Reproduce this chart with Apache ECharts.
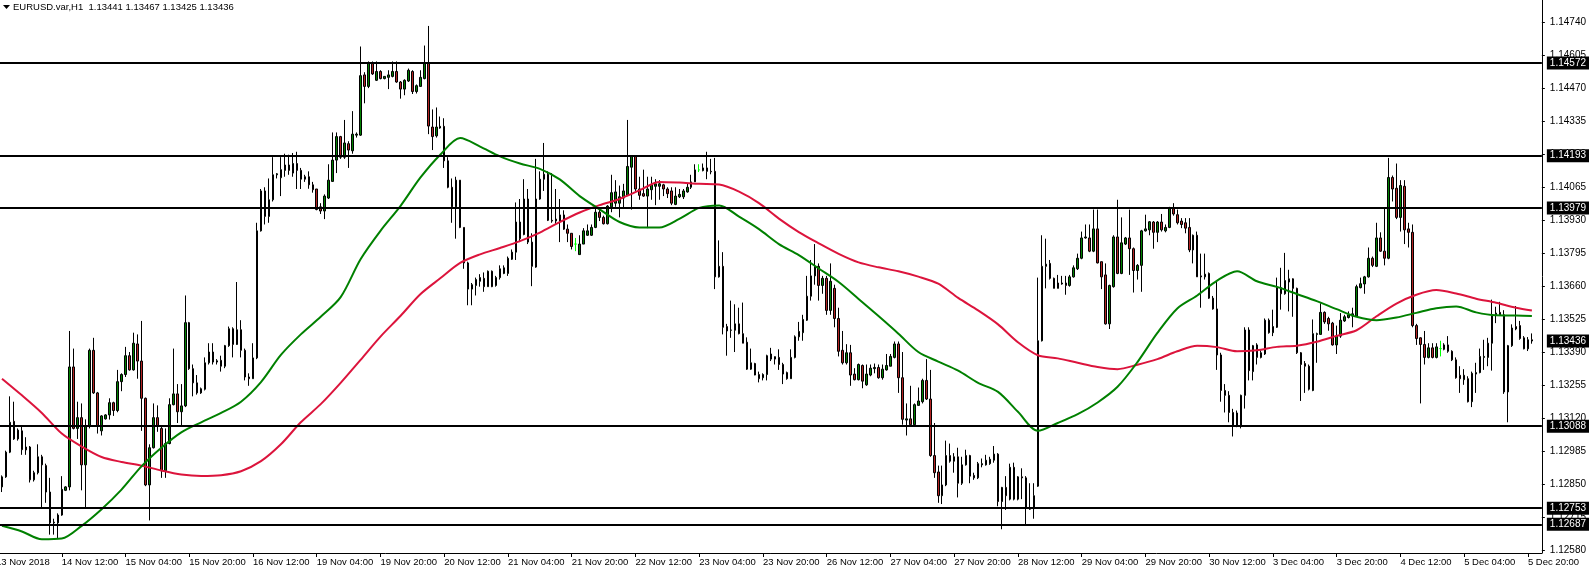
<!DOCTYPE html>
<html><head><meta charset="utf-8">
<script src="https://cdn.jsdelivr.net/npm/echarts@6/dist/echarts.min.js"></script>
<style>html,body{margin:0;padding:0;background:#fff;}#c{width:1589px;height:572px;}</style>
</head><body><div id="c"></div>
<script>
const symbolName = 'EURUSD.var,H1';
const firstLabel = '13 Nov 2018';
const days = ['13 Nov','14 Nov','15 Nov','16 Nov','19 Nov','20 Nov','21 Nov','22 Nov','23 Nov','26 Nov','27 Nov','28 Nov','29 Nov','30 Nov','3 Dec','4 Dec','5 Dec'];

const opens = [
1.12840,1.12881,1.12982,1.13108,1.13036,1.13069,1.13003,1.13003,1.12869,1.12898,
1.12963,1.12927,1.12819,1.12693,1.12693,1.12725,1.12826,1.12840,1.13330,1.13079,
1.13123,1.12930,1.13087,1.13398,1.13224,1.13069,1.13118,1.13134,1.13184,1.13152,
1.13270,1.13299,1.13376,1.13318,1.13424,1.13354,1.13202,1.12848,1.13000,1.13123,
1.13079,1.12906,1.13017,1.13176,1.13220,1.13147,1.13171,1.13511,1.13323,1.13265,
1.13224,1.13239,1.13347,1.13391,1.13350,1.13357,1.13333,1.13417,1.13486,1.13422,
1.13482,1.13398,1.13289,1.13282,1.13367,1.13886,1.14049,1.13945,1.14013,1.14115,
1.14103,1.14133,1.14155,1.14122,1.14161,1.14133,1.14107,1.14107,1.14074,1.14057,
1.13984,1.13967,1.14020,1.14088,1.14175,1.14271,1.14187,1.14242,1.14213,1.14277,
1.14277,1.14523,1.14476,1.14573,1.14501,1.14537,1.14508,1.14513,1.14517,1.14537,
1.14494,1.14465,1.14498,1.14537,1.14455,1.14476,1.14508,1.14570,1.14310,1.14274,
1.14306,1.14313,1.14172,1.14064,1.13984,1.14093,1.13900,1.13755,1.13648,1.13663,
1.13680,1.13692,1.13658,1.13721,1.13663,1.13695,1.13712,1.13712,1.13770,1.13799,
1.13922,1.13871,1.14016,1.13840,1.13738,1.14016,1.14097,1.14117,1.13929,1.13934,
1.13951,1.13951,1.13893,1.13876,1.13832,1.13789,1.13832,1.13868,1.13868,1.13900,
1.13962,1.13941,1.13915,1.13984,1.13999,1.13999,1.14020,1.14031,1.14146,1.14190,
1.14057,1.14038,1.14028,1.14054,1.14068,1.14068,1.14074,1.14057,1.14049,1.13994,
1.14025,1.14025,1.14045,1.14064,1.14086,1.14135,1.14132,1.14143,1.14129,1.14129,
1.13698,1.13741,1.13495,1.13480,1.13480,1.13506,1.13466,1.13431,1.13321,1.13344,
1.13299,1.13286,1.13299,1.13383,1.13362,1.13369,1.13340,1.13307,1.13282,1.13369,
1.13453,1.13470,1.13521,1.13619,1.13702,1.13741,1.13663,1.13692,1.13561,1.13651,
1.13528,1.13398,1.13347,1.13388,1.13301,1.13278,1.13336,1.13257,1.13297,1.13323,
1.13328,1.13286,1.13318,1.13333,1.13369,1.13424,1.13286,1.13113,1.13118,1.13094,
1.13173,1.13188,1.13275,1.13199,1.12968,1.12901,1.12804,1.12848,1.12945,1.12945,
1.12963,1.12855,1.12930,1.12968,1.12887,1.12877,1.12930,1.12930,1.12935,1.12949,
1.12974,1.12780,1.12838,1.12790,1.12920,1.12790,1.12881,1.12877,1.12754,1.12751,
1.12843,1.13437,1.13741,1.13753,1.13692,1.13651,1.13673,1.13673,1.13663,1.13698,
1.13731,1.13774,1.13857,1.13857,1.13803,1.13894,1.13760,1.13706,1.13506,1.13658,
1.13861,1.13712,1.13832,1.13857,1.13813,1.13724,1.13745,1.13886,1.13890,1.13922,
1.13880,1.13922,1.13886,1.13900,1.13977,1.13952,1.13926,1.13919,1.13900,1.13808,
1.13868,1.13702,1.13698,1.13712,1.13611,1.13567,1.13379,1.13214,1.13214,1.13144,
1.13087,1.13087,1.13214,1.13481,1.13311,1.13420,1.13369,1.13383,1.13521,1.13470,
1.13492,1.13654,1.13629,1.13677,1.13690,1.13651,1.13388,1.13344,1.13333,1.13234,
1.13463,1.13463,1.13553,1.13528,1.13509,1.13420,1.13456,1.13518,1.13532,1.13538,
1.13538,1.13654,1.13669,1.13698,1.13774,1.13741,1.13857,1.13803,1.13774,1.14104,
1.14060,1.13941,1.14068,1.13894,1.13880,1.13499,1.13449,1.13422,1.13369,1.13408,
1.13369,1.13405,1.13402,1.13420,1.13394,1.13359,1.13296,1.13278,1.13282,1.13188,
1.13301,1.13307,1.13369,1.13369,1.13427,1.13543,1.13553,1.13543,1.13228,1.13417,
1.13495,1.13499,1.13449,1.13404,1.13441];

const highs = [
1.12887,1.12988,1.13210,1.13188,1.13079,1.13087,1.13043,1.13007,1.12906,1.13014,
1.12971,1.12935,1.12877,1.12710,1.12732,1.12884,1.12843,1.13477,1.13405,1.13188,
1.13181,1.13116,1.13405,1.13449,1.13228,1.13133,1.13137,1.13202,1.13188,1.13318,
1.13304,1.13412,1.13391,1.13470,1.13463,1.13518,1.13205,1.13014,1.13181,1.13173,
1.13087,1.13079,1.13202,1.13405,1.13260,1.13260,1.13622,1.13514,1.13340,1.13297,
1.13246,1.13369,1.13427,1.13427,1.13362,1.13376,1.13420,1.13495,1.13492,1.13677,
1.13521,1.13405,1.13304,1.13427,1.13919,1.14057,1.14064,1.14100,1.14187,1.14122,
1.14187,1.14201,1.14197,1.14204,1.14209,1.14143,1.14115,1.14129,1.14086,1.14057,
1.13999,1.14035,1.14158,1.14288,1.14288,1.14274,1.14339,1.14252,1.14375,1.14288,
1.14639,1.14534,1.14578,1.14578,1.14578,1.14542,1.14517,1.14542,1.14578,1.14578,
1.14498,1.14505,1.14549,1.14542,1.14484,1.14542,1.14643,1.14723,1.14382,1.14390,
1.14353,1.14346,1.14187,1.14100,1.14107,1.14093,1.13900,1.13760,1.13673,1.13695,
1.13709,1.13716,1.13724,1.13724,1.13702,1.13745,1.13745,1.13781,1.13810,1.14002,
1.14016,1.14097,1.14057,1.13876,1.14180,1.14129,1.14245,1.14129,1.14122,1.14057,
1.14016,1.13970,1.13912,1.13876,1.13857,1.13868,1.13897,1.13912,1.13912,1.13977,
1.13977,1.13948,1.13991,1.14115,1.14093,1.14071,1.14078,1.14339,1.14194,1.14194,
1.14107,1.14136,1.14107,1.14107,1.14097,1.14093,1.14078,1.14064,1.14064,1.14064,
1.14057,1.14057,1.14078,1.14115,1.14158,1.14158,1.14161,1.14209,1.14180,1.14184,
1.13847,1.13799,1.13506,1.13601,1.13586,1.13572,1.13593,1.13451,1.13405,1.13347,
1.13311,1.13304,1.13380,1.13408,1.13373,1.13402,1.13347,1.13311,1.13402,1.13459,
1.13514,1.13543,1.13702,1.13767,1.13832,1.13753,1.13702,1.13702,1.13753,1.13666,
1.13572,1.13477,1.13423,1.13420,1.13325,1.13344,1.13340,1.13340,1.13340,1.13344,
1.13340,1.13340,1.13383,1.13383,1.13434,1.13434,1.13391,1.13181,1.13253,1.13181,
1.13246,1.13282,1.13362,1.13318,1.13101,1.12927,1.12927,1.13029,1.13017,1.12978,
1.13000,1.12963,1.12992,1.12971,1.12898,1.12942,1.12956,1.12971,1.12963,1.13007,
1.12978,1.12840,1.12884,1.12935,1.12939,1.12884,1.12916,1.12884,1.12855,1.12855,
1.13695,1.13868,1.13854,1.13767,1.13695,1.13706,1.13702,1.13702,1.13706,1.13745,
1.13793,1.13883,1.13912,1.13912,1.13973,1.13973,1.13760,1.13753,1.13666,1.13868,
1.14013,1.13941,1.13861,1.13973,1.13818,1.13750,1.13890,1.13952,1.13926,1.13926,
1.13926,1.13955,1.13912,1.13984,1.13999,1.13973,1.13938,1.13938,1.13938,1.13871,
1.13883,1.13793,1.13793,1.13716,1.13620,1.13677,1.13388,1.13260,1.13231,1.13159,
1.13152,1.13217,1.13492,1.13492,1.13420,1.13427,1.13398,1.13528,1.13528,1.13564,
1.13695,1.13735,1.13796,1.13727,1.13692,1.13654,1.13391,1.13354,1.13340,1.13524,
1.13470,1.13590,1.13557,1.13535,1.13514,1.13499,1.13550,1.13543,1.13557,1.13572,
1.13666,1.13695,1.13702,1.13818,1.13781,1.13919,1.13880,1.13977,1.14184,1.14112,
1.14161,1.14093,1.14093,1.13919,1.13912,1.13506,1.13451,1.13477,1.13427,1.13427,
1.13427,1.13437,1.13427,1.13456,1.13398,1.13369,1.13333,1.13321,1.13292,1.13311,
1.13347,1.13405,1.13441,1.13449,1.13605,1.13576,1.13596,1.13562,1.13420,1.13504,
1.13579,1.13518,1.13456,1.13452,1.13467];

const lows = [
1.12819,1.12877,1.12978,1.13032,1.13029,1.12971,1.12971,1.12858,1.12862,1.12891,
1.12757,1.12775,1.12645,1.12645,1.12631,1.12722,1.12823,1.12826,1.13075,1.13036,
1.12826,1.12757,1.13079,1.13220,1.13058,1.13050,1.13115,1.13115,1.13130,1.13145,
1.13231,1.13289,1.13315,1.13315,1.13282,1.13069,1.12843,1.12703,1.12997,1.13065,
1.12877,1.12877,1.13014,1.13173,1.13101,1.13087,1.13166,1.13318,1.13210,1.13217,
1.13220,1.13234,1.13340,1.13340,1.13340,1.13311,1.13325,1.13412,1.13369,1.13420,
1.13369,1.13275,1.13253,1.13282,1.13362,1.13883,1.13912,1.13919,1.14006,1.14100,
1.14028,1.14107,1.14115,1.14107,1.14057,1.14057,1.14086,1.14058,1.14042,1.13970,
1.13955,1.13934,1.14016,1.14086,1.14122,1.14180,1.14180,1.14143,1.14201,1.14267,
1.14274,1.14407,1.14469,1.14523,1.14498,1.14505,1.14505,1.14465,1.14513,1.14491,
1.14426,1.14440,1.14494,1.14445,1.14447,1.14476,1.14505,1.14281,1.14216,1.14267,
1.14303,1.14143,1.14060,1.13919,1.13854,1.13897,1.13731,1.13582,1.13582,1.13622,
1.13658,1.13637,1.13658,1.13656,1.13658,1.13687,1.13709,1.13702,1.13767,1.13767,
1.13840,1.13868,1.13832,1.13660,1.13735,1.14013,1.14049,1.13926,1.13919,1.13912,
1.13840,1.13890,1.13840,1.13810,1.13803,1.13789,1.13832,1.13865,1.13865,1.13897,
1.13926,1.13912,1.13912,1.13962,1.13984,1.13941,1.13977,1.14028,1.13973,1.14049,
1.14013,1.14025,1.13897,1.14013,1.13991,1.14013,1.14028,1.14020,1.13991,1.13991,
1.14020,1.14016,1.14042,1.14057,1.14086,1.14126,1.14129,1.14097,1.14117,1.13648,
1.13695,1.13463,1.13376,1.13449,1.13391,1.13463,1.13427,1.13318,1.13318,1.13296,
1.13267,1.13275,1.13275,1.13354,1.13340,1.13318,1.13260,1.13278,1.13282,1.13365,
1.13437,1.13437,1.13518,1.13601,1.13666,1.13601,1.13629,1.13543,1.13543,1.13492,
1.13373,1.13340,1.13340,1.13253,1.13275,1.13275,1.13243,1.13253,1.13292,1.13304,
1.13282,1.13278,1.13315,1.13333,1.13365,1.13224,1.13094,1.13050,1.13094,1.13090,
1.13171,1.13181,1.13195,1.12963,1.12877,1.12775,1.12770,1.12843,1.12939,1.12898,
1.12797,1.12848,1.12927,1.12855,1.12869,1.12872,1.12920,1.12927,1.12930,1.12939,
1.12761,1.12667,1.12746,1.12785,1.12785,1.12785,1.12790,1.12681,1.12746,1.12710,
1.12840,1.13434,1.13651,1.13687,1.13651,1.13651,1.13666,1.13625,1.13658,1.13695,
1.13726,1.13770,1.13854,1.13799,1.13799,1.13753,1.13648,1.13503,1.13485,1.13654,
1.13709,1.13709,1.13828,1.13706,1.13634,1.13687,1.13637,1.13883,1.13868,1.13813,
1.13840,1.13883,1.13880,1.13897,1.13948,1.13912,1.13897,1.13876,1.13799,1.13753,
1.13698,1.13572,1.13687,1.13608,1.13564,1.13318,1.13188,1.13144,1.13104,1.13046,
1.13084,1.13079,1.13160,1.13275,1.13275,1.13340,1.13365,1.13379,1.13466,1.13456,
1.13489,1.13564,1.13625,1.13557,1.13535,1.13383,1.13191,1.13224,1.13234,1.13231,
1.13347,1.13463,1.13506,1.13478,1.13417,1.13383,1.13449,1.13514,1.13528,1.13492,
1.13535,1.13651,1.13629,1.13695,1.13738,1.13738,1.13800,1.13745,1.13770,1.14006,
1.13934,1.13883,1.13832,1.13818,1.13492,1.13420,1.13181,1.13340,1.13365,1.13365,
1.13365,1.13373,1.13398,1.13388,1.13354,1.13282,1.13224,1.13257,1.13185,1.13166,
1.13224,1.13304,1.13318,1.13333,1.13315,1.13509,1.13538,1.13220,1.13104,1.13412,
1.13480,1.13441,1.13402,1.13395,1.13425];

const closes = [
1.12881,1.12982,1.13104,1.13036,1.13072,1.12992,1.12991,1.12869,1.12898,1.12963,
1.12930,1.12819,1.12693,1.12696,1.12725,1.12830,1.12840,1.13330,1.13079,1.13123,
1.12930,1.13087,1.13398,1.13224,1.13087,1.13130,1.13134,1.13184,1.13152,1.13270,
1.13299,1.13376,1.13318,1.13427,1.13354,1.13202,1.12848,1.13000,1.13123,1.13087,
1.12906,1.13017,1.13176,1.13220,1.13147,1.13171,1.13511,1.13323,1.13265,1.13224,
1.13241,1.13347,1.13391,1.13350,1.13355,1.13333,1.13417,1.13486,1.13422,1.13482,
1.13398,1.13289,1.13282,1.13367,1.13886,1.14049,1.13945,1.14013,1.14115,1.14119,
1.14136,1.14155,1.14133,1.14161,1.14133,1.14097,1.14097,1.14074,1.14054,1.13973,
1.13967,1.14028,1.14093,1.14175,1.14271,1.14187,1.14245,1.14216,1.14281,1.14281,
1.14520,1.14476,1.14573,1.14527,1.14537,1.14508,1.14517,1.14523,1.14537,1.14494,
1.14465,1.14501,1.14542,1.14455,1.14479,1.14513,1.14570,1.14314,1.14271,1.14310,
1.14313,1.14172,1.14064,1.13984,1.14093,1.13900,1.13755,1.13648,1.13666,1.13687,
1.13695,1.13658,1.13721,1.13658,1.13695,1.13731,1.13735,1.13774,1.13799,1.13922,
1.13854,1.14016,1.13840,1.13741,1.14016,1.14097,1.14117,1.13929,1.13926,1.13926,
1.13926,1.13893,1.13876,1.13822,1.13832,1.13832,1.13886,1.13886,1.13900,1.13962,
1.13941,1.13915,1.13987,1.14042,1.14045,1.14025,1.14049,1.14149,1.14190,1.14057,
1.14031,1.14028,1.14057,1.14074,1.14078,1.14078,1.14057,1.14038,1.13999,1.14028,
1.14035,1.14049,1.14064,1.14086,1.14135,1.14135,1.14143,1.14129,1.14127,1.13698,
1.13741,1.13492,1.13477,1.13481,1.13506,1.13466,1.13427,1.13321,1.13347,1.13297,
1.13282,1.13299,1.13376,1.13362,1.13372,1.13340,1.13301,1.13282,1.13369,1.13453,
1.13475,1.13524,1.13619,1.13702,1.13741,1.13663,1.13692,1.13561,1.13680,1.13528,
1.13394,1.13347,1.13388,1.13297,1.13278,1.13340,1.13272,1.13301,1.13325,1.13328,
1.13286,1.13321,1.13336,1.13373,1.13424,1.13286,1.13116,1.13118,1.13094,1.13176,
1.13191,1.13275,1.13199,1.12968,1.12898,1.12804,1.12848,1.12968,1.12968,1.12963,
1.12855,1.12930,1.12968,1.12884,1.12877,1.12935,1.12935,1.12949,1.12953,1.12974,
1.12780,1.12838,1.12804,1.12920,1.12790,1.12881,1.12877,1.12754,1.12749,1.12804,
1.13437,1.13741,1.13750,1.13692,1.13651,1.13673,1.13669,1.13663,1.13698,1.13735,
1.13774,1.13857,1.13861,1.13803,1.13894,1.13755,1.13698,1.13506,1.13663,1.13861,
1.13712,1.13837,1.13857,1.13813,1.13724,1.13745,1.13886,1.13894,1.13923,1.13880,
1.13922,1.13890,1.13900,1.13977,1.13955,1.13919,1.13912,1.13897,1.13808,1.13868,
1.13698,1.13698,1.13709,1.13611,1.13567,1.13379,1.13234,1.13234,1.13144,1.13087,
1.13142,1.13214,1.13481,1.13315,1.13417,1.13369,1.13388,1.13521,1.13470,1.13495,
1.13654,1.13629,1.13683,1.13690,1.13651,1.13388,1.13340,1.13333,1.13239,1.13466,
1.13466,1.13553,1.13514,1.13506,1.13420,1.13456,1.13521,1.13535,1.13543,1.13547,
1.13658,1.13670,1.13698,1.13774,1.13745,1.13857,1.13803,1.13774,1.14104,1.14057,
1.13941,1.14071,1.13890,1.13880,1.13499,1.13446,1.13422,1.13369,1.13408,1.13369,
1.13412,1.13405,1.13420,1.13394,1.13359,1.13286,1.13282,1.13296,1.13188,1.13304,
1.13307,1.13373,1.13373,1.13427,1.13543,1.13550,1.13543,1.13228,1.13417,1.13489,
1.13485,1.13446,1.13404,1.13441,1.13436];

const maBars = [0,5,10,15,20,25,30,35,40,45,50,55,60,65,70,75,80,85,90,95,100,105,110,115,120,125,130,135,140,145,150,155,160,165,170,175,180,185,190,195,200,205,210,215,220,225,230,235,240,245,250,255,260,265,270,275,280,285,290,295,300,305,310,315,320,325,330,335,340,345,350,355,360,365,370,375,380,384];
const greenMA = [
1.12681,1.12658,1.12626,1.12629,1.12681,1.12749,1.12829,1.12924,1.13000,1.13063,
1.13104,1.13142,1.13188,1.13268,1.13379,1.13463,1.13535,1.13615,1.13770,1.13886,
1.13987,1.14103,1.14197,1.14265,1.14230,1.14190,1.14161,1.14139,1.14096,1.14028,
1.13974,1.13922,1.13900,1.13900,1.13935,1.13980,1.13990,1.13944,1.13893,1.13832,
1.13787,1.13732,1.13677,1.13608,1.13538,1.13466,1.13391,1.13352,1.13315,1.13265,
1.13228,1.13147,1.13069,1.13101,1.13137,1.13185,1.13249,1.13350,1.13469,1.13569,
1.13622,1.13683,1.13721,1.13680,1.13657,1.13628,1.13599,1.13566,1.13535,1.13521,
1.13532,1.13551,1.13570,1.13577,1.13553,1.13541,1.13540,1.13538];
const redMA = [
1.13282,1.13214,1.13142,1.13058,1.13005,1.12962,1.12942,1.12927,1.12907,1.12891,
1.12885,1.12888,1.12904,1.12945,1.13014,1.13104,1.13178,1.13265,1.13359,1.13454,
1.13538,1.13627,1.13692,1.13755,1.13790,1.13816,1.13844,1.13879,1.13922,1.13961,
1.13991,1.14016,1.14051,1.14086,1.14083,1.14078,1.14075,1.14046,1.13999,1.13936,
1.13881,1.13835,1.13792,1.13757,1.13737,1.13721,1.13699,1.13670,1.13612,1.13561,
1.13504,1.13431,1.13378,1.13365,1.13347,1.13330,1.13321,1.13339,1.13362,1.13394,
1.13417,1.13411,1.13394,1.13398,1.13412,1.13417,1.13433,1.13457,1.13480,1.13537,
1.13589,1.13625,1.13644,1.13630,1.13609,1.13592,1.13572,1.13561];

const levels = [1.14572, 1.14193, 1.13979, 1.13088, 1.12753, 1.12687];
const priceTicks = [1.12580,1.12715,1.12850,1.12985,1.13120,1.13255,1.13390,1.13525,1.13660,1.13795,1.13930,1.14065,1.14200,1.14335,1.14470,1.14605,1.14740];

const categories = [];
days.forEach((d, i) => {
  const s = i === 0 ? 21 : 0, e = i === days.length - 1 ? 21 : 23;
  for (let h = s; h <= e; h++) categories.push(d + ' ' + String(h).padStart(2, '0') + ':00');
});
const nBars = categories.length;
categories.push('', '');

const candleData = opens.map((o, i) => {
  const item = { value: [o, closes[i], lows[i], highs[i]] };
  if (o === closes[i]) item.itemStyle = { borderColor: '#00ff00', borderColor0: '#00ff00', borderColorDoji: '#00ff00' };
  return item;
});
const last = opens.length - 1;
const header = symbolName + '  ' + [opens[last], highs[last], lows[last], closes[last]].map(v => v.toFixed(5)).join(' ');
const showLabel = (idx) => idx >= 15 && idx < nBars && (idx - 15) % 16 === 0;
const font = 'Liberation Sans';

const boxLabel = { show: true, position: 'end', distance: 5, formatter: p => Number(p.value).toFixed(5), color: '#fff', backgroundColor: '#000', padding: [2, 5, 1, 3], fontSize: 10, fontFamily: font, opacity: 1 };

const chart = echarts.init(document.getElementById('c'), null, { renderer: 'canvas' });
chart.setOption({
  animation: false,
  backgroundColor: '#fff',
  textStyle: { fontFamily: font },
  grid: { left: -0.5, right: 41.5, top: 0, bottom: 19 },
  xAxis: {
    type: 'category', data: categories, boundaryGap: true,
    axisLine: { lineStyle: { color: '#000', width: 1 } },
    axisTick: { show: true, alignWithLabel: true, interval: showLabel, length: 4, lineStyle: { color: '#000' } },
    axisLabel: { interval: showLabel, align: 'left', color: '#000', fontSize: 9.5, fontFamily: font, margin: 4 },
    splitLine: { show: false }
  },
  yAxis: {
    type: 'value', position: 'right', min: 1.12570, max: 1.14829,
    axisLine: { show: true, lineStyle: { color: '#000', width: 1 } },
    axisTick: { show: true, length: 3, customValues: priceTicks, lineStyle: { color: '#000' } },
    axisLabel: { customValues: priceTicks, formatter: v => v.toFixed(5), color: '#000', fontSize: 10, fontFamily: font, margin: 8 },
    splitLine: { show: false }
  },
  graphic: [
    { type: 'polygon', shape: { points: [[3, 5], [10, 5], [6.5, 9]] }, style: { fill: '#000' } },
    { type: 'text', x: 13, y: 2, style: { text: header, fill: '#000', font: '9.5px "Liberation Sans"' } },
    { type: 'text', x: -4, y: 557, style: { text: firstLabel, fill: '#000', font: '9.5px "Liberation Sans"' } }
  ],
  series: [
    {
      type: 'candlestick', data: candleData, barWidth: 2, silent: true,
      itemStyle: { color: '#008000', color0: '#b22222', borderColor: '#000', borderColor0: '#000', borderColorDoji: '#000', borderWidth: 1 },
      markLine: {
        symbol: ['none', 'none'], silent: true, animation: false, precision: 5,
        lineStyle: { color: '#000', width: 2, type: 'solid' },
        label: boxLabel,
        emphasis: { disabled: true },
        data: levels.map(v => ({ yAxis: v })).concat([{ yAxis: closes[last], lineStyle: { color: 'rgba(0,0,0,0)', width: 0, opacity: 1 }, label: boxLabel }])
      }
    },
    { type: 'line', data: maBars.map((b, i) => [b, redMA[i]]), symbol: 'none', smooth: 0.3, silent: true, lineStyle: { color: '#dc143c', width: 2 }, z: 3 },
    { type: 'line', data: maBars.map((b, i) => [b, greenMA[i]]), symbol: 'none', smooth: 0.3, silent: true, lineStyle: { color: '#008000', width: 2 }, z: 3 }
  ]
});
</script>
</body></html>
